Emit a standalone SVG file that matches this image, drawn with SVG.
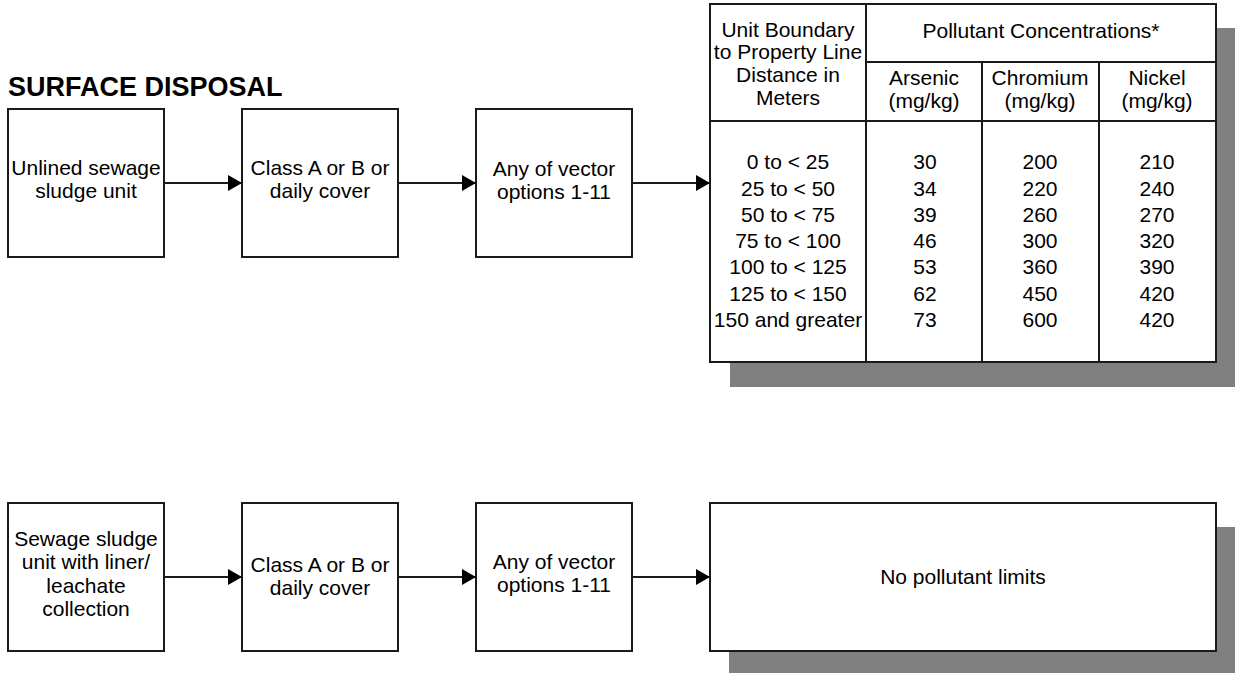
<svg xmlns="http://www.w3.org/2000/svg" width="1235" height="673" viewBox="0 0 1235 673">
<defs>
<style>
.box{fill:#fff;stroke:#1a1a1a;stroke-width:2}
.sh{fill:#808080}
.ln{stroke:#1a1a1a;stroke-width:2;fill:none}
.t{font-family:"Liberation Sans",Arial,sans-serif;font-size:21px;fill:#000;text-anchor:middle}
.title{font-family:"Liberation Sans",Arial,sans-serif;font-size:27px;font-weight:bold;fill:#000}
</style>
<marker id="ah" markerWidth="14" markerHeight="16" refX="14" refY="8" orient="auto" markerUnits="userSpaceOnUse">
<path d="M0,0 L14,8 L0,16 Z" fill="#000"/>
</marker>
</defs>
<rect width="1235" height="673" fill="#fff"/>
<text class="title" x="8" y="96">SURFACE DISPOSAL</text>

<g id="n1">
<rect class="box" x="8" y="109" width="156" height="148"/>
<text class="t" x="86" y="175">Unlined sewage</text>
<text class="t" x="86" y="198">sludge unit</text>
</g>
<g id="n2">
<rect class="box" x="242" y="109" width="156" height="148"/>
<text class="t" x="320" y="175">Class A or B or</text>
<text class="t" x="320" y="198">daily cover</text>
</g>
<g id="n3">
<rect class="box" x="476" y="109" width="156" height="148"/>
<text class="t" x="554" y="176">Any of vector</text>
<text class="t" x="554" y="199">options 1-11</text>
</g>
<g id="table">
<rect class="sh" x="730" y="28" width="510" height="359"/>
<rect class="box" x="710" y="4" width="506" height="358"/>
<line class="ln" x1="866" y1="4" x2="866" y2="362"/>
<line class="ln" x1="866" y1="62" x2="1216" y2="62"/>
<line class="ln" x1="710" y1="121" x2="1216" y2="121"/>
<line class="ln" x1="982" y1="62" x2="982" y2="362"/>
<line class="ln" x1="1099" y1="62" x2="1099" y2="362"/>
<text class="t" x="788" y="37">Unit Boundary</text>
<text class="t" x="788" y="59">to Property Line</text>
<text class="t" x="788" y="82">Distance in</text>
<text class="t" x="788" y="105">Meters</text>
<text class="t" x="1041" y="38">Pollutant Concentrations*</text>
<text class="t" x="924" y="85">Arsenic</text>
<text class="t" x="924" y="108">(mg/kg)</text>
<text class="t" x="1040" y="85">Chromium</text>
<text class="t" x="1040" y="108">(mg/kg)</text>
<text class="t" x="1157" y="85">Nickel</text>
<text class="t" x="1157" y="108">(mg/kg)</text>
<g>
<text class="t" x="788" y="169">0 to &lt; 25</text>
<text class="t" x="788" y="196">25 to &lt; 50</text>
<text class="t" x="788" y="222">50 to &lt; 75</text>
<text class="t" x="788" y="248">75 to &lt; 100</text>
<text class="t" x="788" y="274">100 to &lt; 125</text>
<text class="t" x="788" y="301">125 to &lt; 150</text>
<text class="t" x="788" y="327">150 and greater</text>
</g>
<g>
<text class="t" x="925" y="169">30</text>
<text class="t" x="925" y="196">34</text>
<text class="t" x="925" y="222">39</text>
<text class="t" x="925" y="248">46</text>
<text class="t" x="925" y="274">53</text>
<text class="t" x="925" y="301">62</text>
<text class="t" x="925" y="327">73</text>
</g>
<g>
<text class="t" x="1040" y="169">200</text>
<text class="t" x="1040" y="196">220</text>
<text class="t" x="1040" y="222">260</text>
<text class="t" x="1040" y="248">300</text>
<text class="t" x="1040" y="274">360</text>
<text class="t" x="1040" y="301">450</text>
<text class="t" x="1040" y="327">600</text>
</g>
<g>
<text class="t" x="1157" y="169">210</text>
<text class="t" x="1157" y="196">240</text>
<text class="t" x="1157" y="222">270</text>
<text class="t" x="1157" y="248">320</text>
<text class="t" x="1157" y="274">390</text>
<text class="t" x="1157" y="301">420</text>
<text class="t" x="1157" y="327">420</text>
</g>
</g>

<g id="m1">
<rect class="box" x="8" y="503" width="156" height="148"/>
<text class="t" x="86" y="546">Sewage sludge</text>
<text class="t" x="86" y="569">unit with liner/</text>
<text class="t" x="86" y="593">leachate</text>
<text class="t" x="86" y="616">collection</text>
</g>
<g id="m2">
<rect class="box" x="242" y="503" width="156" height="148"/>
<text class="t" x="320" y="572">Class A or B or</text>
<text class="t" x="320" y="595">daily cover</text>
</g>
<g id="m3">
<rect class="box" x="476" y="503" width="156" height="148"/>
<text class="t" x="554" y="569">Any of vector</text>
<text class="t" x="554" y="592">options 1-11</text>
</g>
<g id="m4">
<rect class="sh" x="729" y="527" width="511" height="146"/>
<rect class="box" x="710" y="503" width="506" height="148"/>
<text class="t" x="963" y="584">No pollutant limits</text>
</g>

<g id="connectors">
<line class="ln" x1="164" y1="183" x2="242" y2="183" marker-end="url(#ah)"/>
<line class="ln" x1="398" y1="183" x2="476" y2="183" marker-end="url(#ah)"/>
<line class="ln" x1="632" y1="183" x2="710" y2="183" marker-end="url(#ah)"/>
<line class="ln" x1="164" y1="577" x2="242" y2="577" marker-end="url(#ah)"/>
<line class="ln" x1="398" y1="577" x2="476" y2="577" marker-end="url(#ah)"/>
<line class="ln" x1="632" y1="577" x2="710" y2="577" marker-end="url(#ah)"/>
</g>
</svg>
